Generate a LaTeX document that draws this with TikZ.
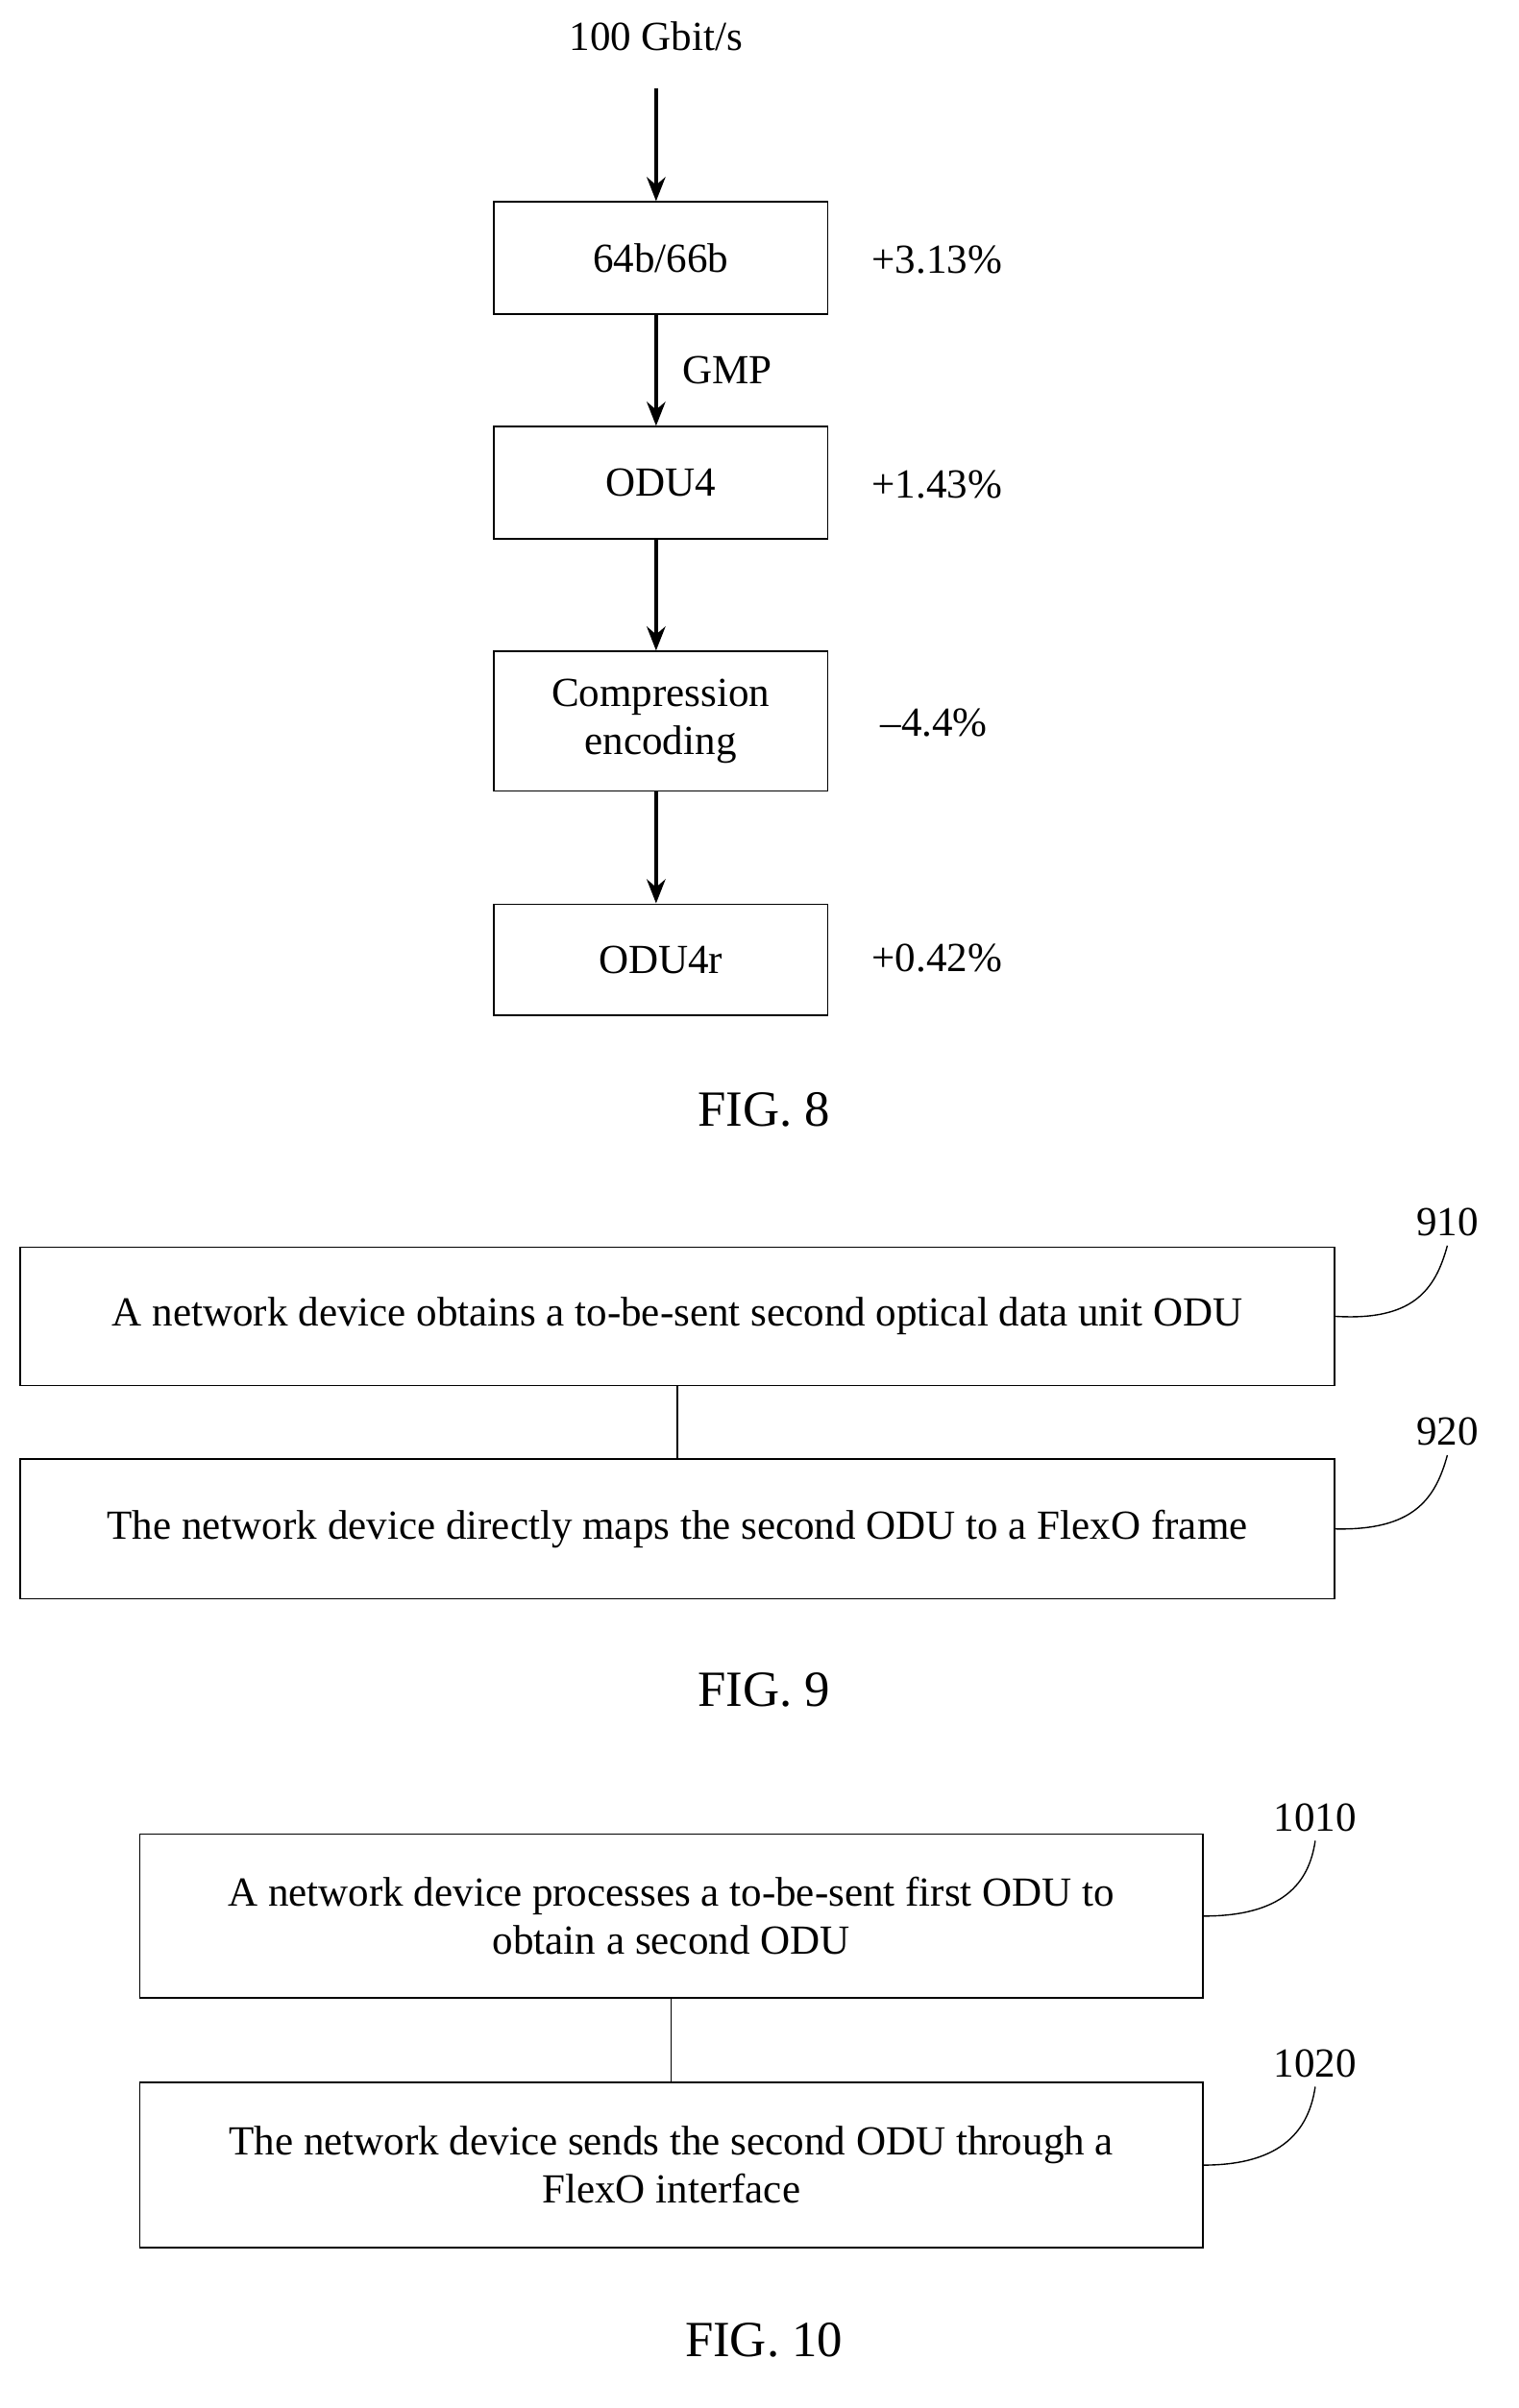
\documentclass[tikz,border=0pt]{standalone}
\usepackage{fontspec}
\setmainfont{Liberation Serif}
\usetikzlibrary{arrows.meta,positioning}
\tikzset{
	blk/.style={draw, line width=0.6pt, align=center, inner sep=0pt},
	flow/.style={-{Stealth[length=9pt,width=7pt]}, line width=1.3pt},
	lnk/.style={line width=0.5pt},
}
\begin{document}
\begin{tikzpicture}[x=0.02cm, y=-0.02cm, font=\fontsize{15.5}{18}\selectfont]
	\useasboundingbox (0,0) rectangle (1000,1586);
	% FIG. 8
	\node (rate) at (432,24) {100 Gbit/s};
	\coordinate (top) at (432,58);
	\node[blk, minimum width=4.4cm, minimum height=1.48cm] (enc) at (435,170) {64b/66b};
	\node[blk, minimum width=4.4cm, minimum height=1.48cm] (odu) at (435,318) {ODU4};
	\node[blk, minimum width=4.4cm, minimum height=1.84cm] (comp) at (435,475) {Compression\\encoding};
	\node[blk, minimum width=4.4cm, minimum height=1.46cm] (odur) at (435,632) {ODU4r};
	\node (p1) at (617,171) {+3.13\%};
	\node (p2) at (617,319) {+1.43\%};
	\node (p3) at (615,476) {--4.4\%};
	\node (p4) at (617,631) {+0.42\%};
	\draw[flow] (top) -- (enc.north -| top);
	\draw[flow] (enc.south -| top) -- node[right=6pt] {GMP} (odu.north -| top);
	\draw[flow] (odu.south -| top) -- (comp.north -| top);
	\draw[flow] (comp.south -| top) -- (odur.north -| top);
	\node (f8) at (503,731) {\fontsize{19}{22}\selectfont FIG. 8};
	% FIG. 9
	\node[blk, minimum width=17.32cm, minimum height=1.82cm] (s910) at (446,867) {A network device obtains a to-be-sent second optical data unit ODU};
	\node[blk, minimum width=17.32cm, minimum height=1.84cm] (s920) at (446,1007) {The network device directly maps the second ODU to a FlexO frame};
	\draw[lnk] (s910) -- (s920);
	\node (l910) at (953,805) {910};
	\node (l920) at (953,943) {920};
	\draw[lnk] (s910.east) .. controls (930,870) and (945,850) .. (l910.south);
	\draw[lnk] (s920.east) .. controls (930,1008) and (945,988) .. (l920.south);
	\node (f9) at (503,1113) {\fontsize{19}{22}\selectfont FIG. 9};
	% FIG. 10
	\node[blk, minimum width=14cm, minimum height=2.16cm] (s1010) at (442,1262) {A network device processes a to-be-sent first ODU to\\obtain a second ODU};
	\node[blk, minimum width=14cm, minimum height=2.18cm] (s1020) at (442,1426) {The network device sends the second ODU through a\\FlexO interface};
	\draw[lnk] (s1010) -- (s1020);
	\node (l1010) at (866,1197) {1010};
	\node (l1020) at (866,1359) {1020};
	\draw[lnk] (s1010.east) .. controls (845,1262) and (862,1240) .. (l1010.south);
	\draw[lnk] (s1020.east) .. controls (845,1426) and (862,1402) .. (l1020.south);
	\node (f10) at (503,1541) {\fontsize{19}{22}\selectfont FIG. 10};
\end{tikzpicture}
\end{document}
